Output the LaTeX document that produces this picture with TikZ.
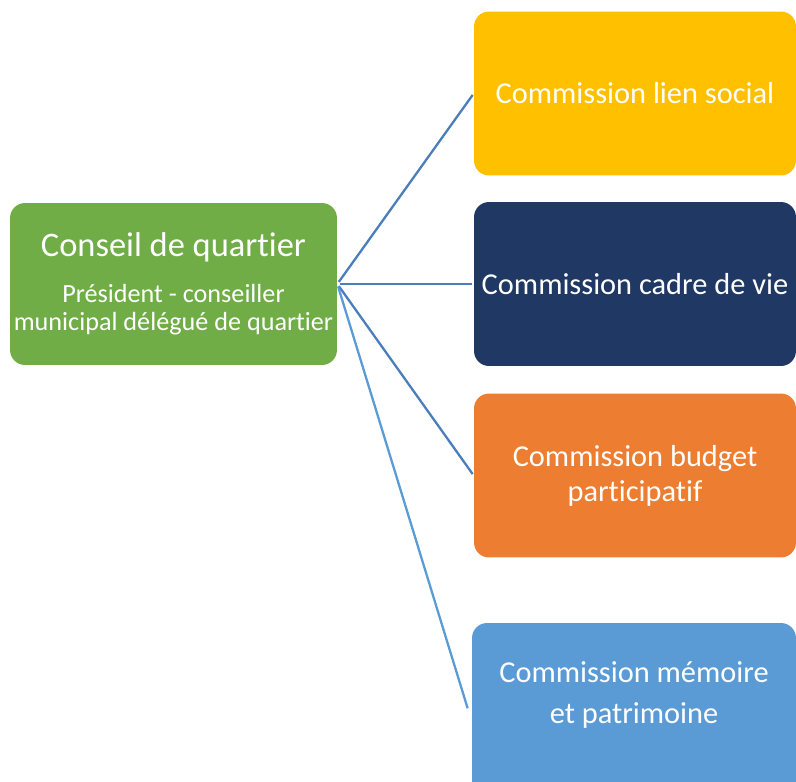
\documentclass[tikz,border=0pt]{standalone}
\usepackage{fontspec}
\setmainfont{Carlito}[Ligatures=NoCommon]
\definecolor{conseilgreen}{HTML}{70AD47}
\definecolor{lienyellow}{HTML}{FFC000}
\definecolor{cadrenavy}{HTML}{203864}
\definecolor{budgetorange}{HTML}{ED7D31}
\definecolor{memoireblue}{HTML}{5B9BD5}
\definecolor{linkgrey}{HTML}{4A7EBB}
\tikzset{
  box/.style={rounded corners=0.3cm, minimum width=6.44cm, minimum height=3.28cm,
    text=white, align=center, inner sep=0pt,
    font=\fontsize{17.3pt}{21pt}\selectfont},
  link/.style={draw=linkgrey, line width=1.3pt, shorten <=1.5pt, shorten >=1pt},
}
\begin{document}
\begin{tikzpicture}[x=0.02cm,y=-0.02cm]
\useasboundingbox (0,0) rectangle (796,782);
\clip (0,0) rectangle (796,782);

\node[box, fill=conseilgreen, minimum width=6.54cm, minimum height=3.24cm,
  font=\fontsize{14.9pt}{16pt}\selectfont] (cq) at (173.5,284)
  {{\fontsize{19.6pt}{24pt}\selectfont Conseil de quartier}\\[10pt]
   Président - conseiller\\municipal délégué de quartier};

\node[box, fill=lienyellow] (lien) at (635,93.5) {Commission lien social};
\node[box, fill=cadrenavy] (cadre) at (635,284) {Commission cadre de vie};
\node[box, fill=budgetorange, font=\fontsize{17.3pt}{20pt}\selectfont] (budget) at (635,475.5)
  {Commission budget\\participatif};
\node[box, fill=memoireblue, minimum width=6.48cm, minimum height=3.48cm] (memoire) at (634,710) {};
\node[text=white, align=center, font=\fontsize{17.3pt}{22.8pt}\selectfont] (memtxt) at (634,695)
  {Commission mémoire\\et patrimoine};

%\path (cq) -- (lien) node {};
\path[link] (cq.east) edge (lien.west);
\path[link] (cq.east) edge (cadre.west);
\path[link] (cq.east) edge (budget.west);
\path[link, draw=memoireblue] (cq.east) edge ([xshift=-2pt]memoire.west);
\end{tikzpicture}
\end{document}
